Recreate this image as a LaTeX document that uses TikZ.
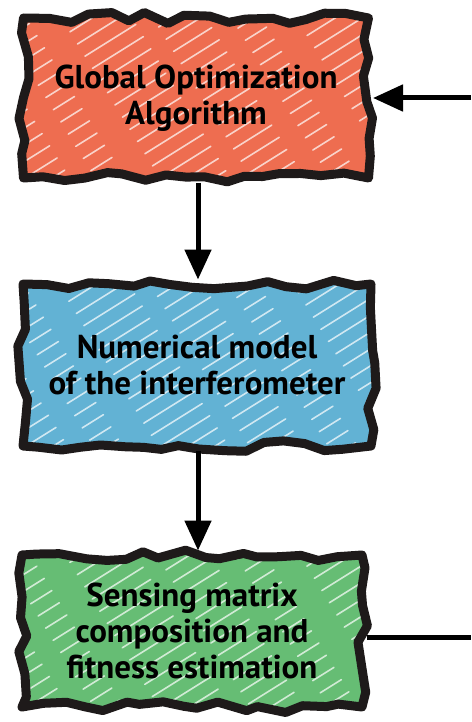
\documentclass[tikz,border=0pt]{standalone}
\usepackage{fontspec}
\setmainfont{PT Sans}
\usetikzlibrary{arrows.meta,decorations.pathmorphing}
\definecolor{cOrange}{HTML}{EE6D50}
\definecolor{cBlue}{HTML}{62B2D4}
\definecolor{cGreen}{HTML}{66BD74}
\definecolor{ink}{HTML}{1E1A1A}
\tikzset{
  sketch/.style={draw=ink, line width=9pt, line join=round, line cap=round,
    decorate, decoration={random steps, segment length=20pt, amplitude=5.5pt},
    align=center, text=black, font=\bfseries\fontsize{33}{36}\selectfont,
    inner sep=0pt,
    path picture={
      \foreach \k in {-10,...,14}
        \draw[white, line width=1.6pt, opacity=.7, line cap=round,
              dash pattern=on 45pt off 22pt on 25pt off 30pt on 60pt off 18pt,
              dash phase=\k*23pt]
          ([xshift=\k*27pt]path picture bounding box.south west) -- ++(280pt,175pt);
    }},
  conn/.style={draw=black, line width=5pt, -{Triangle[length=30pt,width=26pt]}},
  plain/.style={draw=black, line width=5pt},
}
\begin{document}
\begin{tikzpicture}[x=1pt,y=-1pt]
\pgfmathsetseed{7}
\useasboundingbox (0,0) rectangle (471,722);
\node[sketch, fill=cOrange, minimum width=345pt, minimum height=160pt] (n1) at (196,98)
  {Global Optimization\\Algorithm};
\node[sketch, fill=cBlue, minimum width=348pt, minimum height=162pt] (n2) at (197,365)
  {Numerical model\\of the interferometer};
\node[sketch, fill=cGreen, minimum width=340pt, minimum height=152pt] (n3) at (192,631)
  {Sensing matrix\\composition and\\fitness estimation};
\coordinate (fin) at (471,98);
\coordinate (fout) at (471,637);
\draw[conn] (n1.south -| 198,0) -- (n2.north -| 198,0);
\draw[conn] (n2.south -| 198,0) -- (n3.north -| 198,0);
\draw[conn] (fin) -- (n1.east |- fin);
\draw[plain] (n3.east |- fout) -- (fout);
\end{tikzpicture}
\end{document}
